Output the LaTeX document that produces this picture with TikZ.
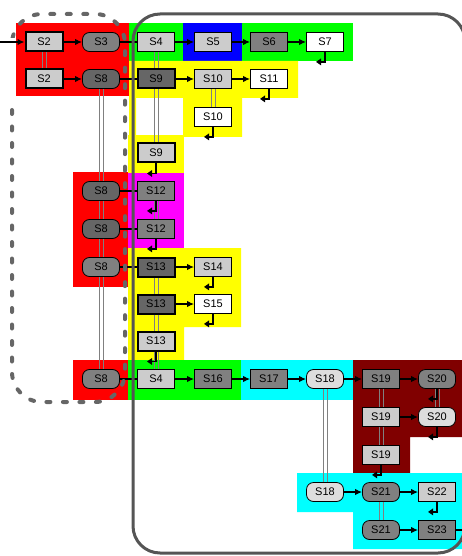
\documentclass[tikz,border=0pt]{standalone}
\usepackage{fontspec}
\setmainfont{Liberation Sans}
\usetikzlibrary{arrows.meta}
\definecolor{lg}{HTML}{CCCCCC}
\definecolor{mg}{HTML}{808080}
\definecolor{dg}{HTML}{666666}
\definecolor{vlg}{HTML}{DDDDDD}
\definecolor{maroon}{HTML}{800000}
\definecolor{bord}{HTML}{555555}
\definecolor{dashc}{HTML}{666666}
\definecolor{pure green}{HTML}{00FF00}
\definecolor{pure red}{HTML}{FF0000}
\definecolor{pure blue}{HTML}{0000FF}
\definecolor{pure yellow}{HTML}{FFFF00}
\definecolor{pure magenta}{HTML}{FF00FF}
\definecolor{pure cyan}{HTML}{00FFFF}
\newcommand\dlink[2]{%
  \draw[dl] ([xshift=-2pt]#1.south) -- ([xshift=-2pt]#2.north);
  \draw[dl] ([xshift=2pt]#1.south) -- ([xshift=2pt]#2.north);}
\newcommand\hookarr[1]{\draw[hk] (#1.south) -- ++(0,10) -- ++(-9,0);}
\begin{document}
\begin{tikzpicture}[x=1pt,y=-1pt,
  nd/.style={draw, line width=0.8pt, minimum width=37pt, minimum height=19pt,
    inner sep=0pt, font=\fontsize{11}{12}\selectfont},
  bx/.style={nd, rectangle},
  pl/.style={nd, rounded corners=7pt},
  tk/.style={line width=2pt},
  arr/.style={line width=1.4pt, -{Latex[length=7pt,width=6.5pt]}},
  ln/.style={line width=1.4pt},
  dl/.style={draw=mg, line width=0.9pt},
  hk/.style={line width=1.7pt, -{Triangle[length=5pt,width=6.5pt]}},
  dbox/.style={draw=dashc, line width=4pt, dash pattern=on 4pt off 12.5pt,
    line cap=round, rounded corners=30pt},
  obox/.style={draw=bord, line width=3pt, rounded corners=27pt}
]
\useasboundingbox (0,0) rectangle (462,556);
% colored regions
\fill[pure red] (16,23) rectangle (129,96);
\fill[pure green] (129,23) rectangle (183,61);
\fill[pure blue] (183,23) rectangle (242,61);
\fill[pure green] (242,23) rectangle (353,61);
\fill[pure yellow] (129,61) -- (298,61) -- (298,98) -- (242,98) -- (242,137)
  -- (183,137) -- (183,98) -- (136,98) -- (136,135) -- (129,135) -- cycle;
\fill[pure yellow] (128,135) rectangle (184,173);
\fill[pure magenta] (128,173) rectangle (184,248);
\fill[pure red] (73,172) rectangle (128,287);
\fill[pure yellow] (128,248) -- (241,248) -- (241,327) -- (184,327) -- (184,360)
  -- (128,360) -- cycle;
\fill[pure red] (73,360) rectangle (128,400);
\fill[pure green] (128,360) rectangle (241,400);
\fill[pure cyan] (241,360) rectangle (353,400);
\fill[maroon] (353,360) -- (462,360) -- (462,437) -- (410,437) -- (410,473)
  -- (353,473) -- cycle;
\fill[pure cyan] (297,473) -- (462,473) -- (462,549) -- (353,549) -- (353,512)
  -- (297,512) -- cycle;
% nodes
\node[bx,tk,fill=lg] (s2a) at (44,42) {S2};
\node[pl,fill=mg] (s3a) at (101,42) {S3};
\node[bx,fill=lg] (s4a) at (156,42) {S4};
\node[bx,fill=lg] (s5) at (213,42) {S5};
\node[bx,fill=mg] (s6) at (269,42) {S6};
\node[bx,fill=white] (s7) at (325,42) {S7};
\node[bx,tk,fill=lg] (s2b) at (44,79) {S2};
\node[pl,fill=dg] (s8a) at (101,79) {S8};
\node[bx,tk,fill=dg] (s9a) at (156,79) {S9};
\node[bx,fill=lg] (s10a) at (213,79) {S10};
\node[bx,fill=white] (s11) at (269,79) {S11};
\node[bx,fill=white] (s10b) at (213,117) {S10};
\node[bx,tk,fill=lg] (s9b) at (156,153) {S9};
\node[pl,fill=dg] (s8b) at (101,191) {S8};
\node[bx,fill=mg] (s12a) at (156,191) {S12};
\node[pl,fill=dg] (s8c) at (101,229) {S8};
\node[bx,fill=mg] (s12b) at (156,229) {S12};
\node[pl,fill=mg] (s8d) at (101,267) {S8};
\node[bx,tk,fill=dg] (s13a) at (156,267) {S13};
\node[bx,fill=lg] (s14) at (213,267) {S14};
\node[bx,tk,fill=dg] (s13b) at (156,304) {S13};
\node[bx,fill=white] (s15) at (213,304) {S15};
\node[bx,tk,fill=lg] (s13c) at (156,341) {S13};
\node[pl,fill=mg] (s8e) at (101,379) {S8};
\node[bx,fill=lg] (s4b) at (156,379) {S4};
\node[bx,fill=mg] (s16) at (213,379) {S16};
\node[bx,fill=mg] (s17) at (269,379) {S17};
\node[pl,fill=vlg] (s18a) at (325,379) {S18};
\node[bx,fill=mg] (s19a) at (381,379) {S19};
\node[pl,fill=mg] (s20a) at (437,379) {S20};
\node[bx,fill=lg] (s19b) at (381,417) {S19};
\node[pl,fill=vlg] (s20b) at (437,417) {S20};
\node[bx,fill=lg] (s19c) at (381,455) {S19};
\node[pl,fill=vlg] (s18b) at (325,492) {S18};
\node[pl,fill=mg] (s21a) at (381,492) {S21};
\node[bx,fill=lg] (s22) at (437,492) {S22};
\node[pl,fill=mg] (s21b) at (381,530) {S21};
\node[bx,fill=mg] (s23) at (437,530) {S23};
\coordinate (in) at (0,42);
\coordinate (out) at (462,530);
% double links
\dlink{s2a}{s2b}
\dlink{s4a}{s9a}
\dlink{s9a}{s9b}
\dlink{s10a}{s10b}
\dlink{s8a}{s8b}
\dlink{s8b}{s8c}
\dlink{s8c}{s8d}
\dlink{s8d}{s8e}
\dlink{s12a}{s12b}
\dlink{s13a}{s13b}
\dlink{s13b}{s13c}
\dlink{s13c}{s4b}
\dlink{s18a}{s18b}
\dlink{s19a}{s19b}
\dlink{s19b}{s19c}
\dlink{s21a}{s21b}
\dlink{s20a}{s20b}
% horizontal connectors
\draw[arr] (in) -- (s2a);
\draw[arr] (s2a) -- (s3a);
\draw[ln] (s3a) -- (s4a);
\draw[arr] (s4a) -- (s5);
\draw[arr] (s5) -- (s6);
\draw[arr] (s6) -- (s7);
\draw[arr] (s2b) -- (s8a);
\draw[ln] (s8a) -- (s9a);
\draw[arr] (s9a) -- (s10a);
\draw[arr] (s10a) -- (s11);
\draw[ln] (s8b) -- (s12a);
\draw[ln] (s8c) -- (s12b);
\draw[ln] (s8d) -- (s13a);
\draw[arr] (s13a) -- (s14);
\draw[arr] (s13b) -- (s15);
\draw[ln] (s8e) -- (s4b);
\draw[arr] (s4b) -- (s16);
\draw[arr] (s16) -- (s17);
\draw[arr] (s17) -- (s18a);
\draw[arr] (s18a) -- (s19a);
\draw[arr] (s19a) -- (s20a);
\draw[arr] (s19b) -- (s20b);
\draw[arr] (s18b) -- (s21a);
\draw[arr] (s21a) -- (s22);
\draw[arr] (s21b) -- (s23);
\draw[ln] (s23) -- (out);
% hooks
\hookarr{s7}
\hookarr{s11}
\hookarr{s10b}
\hookarr{s9b}
\hookarr{s12a}
\hookarr{s12b}
\hookarr{s14}
\hookarr{s15}
\hookarr{s13c}
\hookarr{s20a}
\hookarr{s20b}
\hookarr{s19c}
\hookarr{s22}
% dashed group and outer frame
\begin{scope}
\clip (0,0) -- (462,0) -- (462,556) -- (0,556) -- (0,102) -- (16,102)
  -- (16,38) -- (0,38) -- cycle;
\draw[dbox] (12,14) rectangle (125,402);
\end{scope}
\draw[obox] (133,14) rectangle (465,553);
\end{tikzpicture}
\end{document}
